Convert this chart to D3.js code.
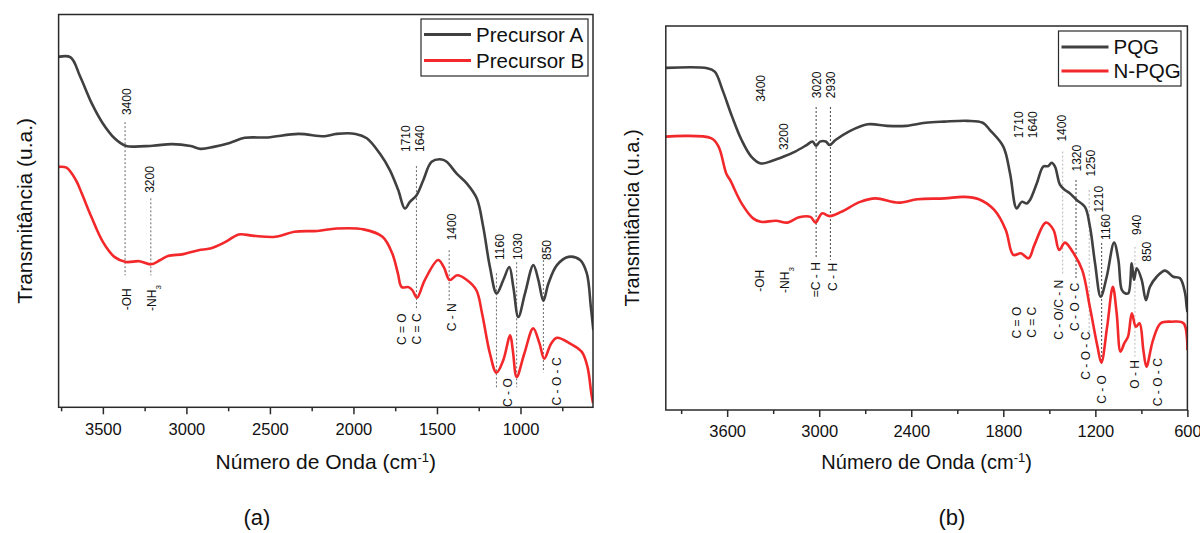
<!DOCTYPE html>
<html>
<head>
<meta charset="utf-8">
<script src="https://cdn.jsdelivr.net/npm/d3@7"></script>
<style>
  body { margin: 0; background: #fff; }
  text { font-family: "Liberation Sans", Arial, sans-serif; fill: #111; }
</style>
</head>
<body>
<script>
// ---- data (wavenumber cm-1, transmittance a.u.) ----
const precursorA = [[3768,89.2],[3693,89.1],[3636,84.2],[3568,77.5],[3502,72.4],[3430,68.5],[3364,66.6],[3202,66.6],[3088,67.0],[2974,66.5],[2915,65.8],[2837,66.3],[2741,67.3],[2651,68.6],[2513,68.7],[2330,69.6],[2172,69.0],[2101,69.6],[1987,69.6],[1920,68.5],[1842,64.6],[1782,60.4],[1732,55.3],[1692,50.6],[1662,52.3],[1622,54.0],[1582,57.8],[1532,62.5],[1472,63.1],[1442,62.5],[1382,59.5],[1322,57.0],[1262,53.2],[1223,45.9],[1183,35.7],[1143,29.0],[1103,32.4],[1067,35.7],[1043,30.6],[1013,23.0],[973,29.0],[923,36.2],[893,32.4],[863,27.1],[833,31.5],[782,36.2],[713,38.3],[643,37.5],[603,34.1],[579,25.6],[564,19.6]];
const precursorB = [[3768,61.2],[3718,61.0],[3661,57.8],[3626,54.4],[3569,48.5],[3500,42.1],[3431,38.3],[3362,37.0],[3282,37.2],[3213,36.4],[3156,37.5],[3110,38.5],[3018,39.0],[2927,40.0],[2858,40.4],[2766,42.1],[2686,44.0],[2605,43.7],[2468,43.4],[2353,44.7],[2216,44.9],[2101,45.5],[1940,45.3],[1826,43.4],[1768,39.2],[1734,34.1],[1711,30.6],[1670,30.6],[1647,29.8],[1620,27.9],[1573,32.4],[1493,37.5],[1459,35.7],[1424,32.4],[1379,33.6],[1321,32.4],[1264,29.8],[1230,23.9],[1183,13.7],[1144,8.8],[1103,12.0],[1062,18.3],[1046,14.5],[1023,7.7],[977,13.7],[924,20.1],[886,16.2],[858,12.4],[817,16.2],[782,17.7],[702,16.2],[633,14.1],[599,10.3],[576,3.5],[566,1.1]];
const pqg = [[4000,89.1],[3730,89.0],[3681,88.1],[3630,83.3],[3568,76.4],[3506,70.3],[3443,66.0],[3381,64.2],[3306,64.9],[3231,66.0],[3157,67.3],[3082,69.0],[3044,69.9],[3020,68.8],[2995,69.9],[2957,69.9],[2932,69.0],[2894,70.3],[2807,72.5],[2683,74.4],[2558,74.0],[2433,74.0],[2308,74.8],[2184,75.1],[2034,75.3],[1934,74.8],[1887,72.9],[1800,68.6],[1756,61.6],[1713,52.5],[1680,54.2],[1647,53.8],[1626,54.7],[1582,59.0],[1539,63.4],[1507,63.5],[1485,64.4],[1463,63.4],[1430,58.6],[1398,57.3],[1365,56.4],[1322,54.7],[1268,52.9],[1235,47.7],[1202,38.2],[1165,29.5],[1126,34.7],[1078,43.6],[1050,39.1],[1028,31.3],[1007,30.4],[985,30.4],[963,38.2],[948,33.9],[930,36.9],[898,33.9],[870,28.6],[844,32.1],[800,34.7],[746,36.3],[692,34.7],[648,34.3],[615,30.4],[605,26.9],[600,25.5]];
const npqg = [[4000,71.2],[3705,70.8],[3656,68.6],[3606,61.6],[3581,59.9],[3506,53.8],[3431,49.9],[3381,49.0],[3282,49.3],[3207,48.8],[3132,50.2],[3057,50.3],[3024,48.8],[2982,51.2],[2932,50.5],[2857,51.6],[2733,54.2],[2633,55.1],[2483,54.0],[2359,54.9],[2184,55.1],[2059,55.5],[1959,54.9],[1859,52.1],[1784,46.9],[1735,40.4],[1685,40.8],[1635,39.5],[1597,43.0],[1523,48.8],[1473,46.9],[1436,41.7],[1398,43.6],[1348,41.2],[1286,36.5],[1236,26.9],[1186,16.5],[1161,12.3],[1123,21.7],[1086,32.1],[1061,25.2],[1036,15.2],[1011,17.4],[987,19.1],[962,25.2],[936,21.7],[912,22.6],[887,15.6],[867,11.3],[824,18.2],[774,22.6],[700,23.0],[625,22.6],[600,15.6]];

const ticksA = [3500, 3000, 2500, 2000, 1500, 1000];
const minorA = [3750, 3250, 2750, 2250, 1750, 1250, 750];
const ticksB = [3600, 3000, 2400, 1800, 1200, 600];
const minorB = [3900, 3300, 2700, 2100, 1500, 900];

// peak marks: wn, from, to (a.u.), tone
const marksA = [
  {wn: 3367, y1: 72.6, y2: 33.6, tone: "mid"},
  {wn: 3213, y1: 53.2, y2: 33.6, tone: "mid"},
  {wn: 1623, y1: 61.4, y2: 24.7, tone: "mid"},
  {wn: 1427, y1: 40.0, y2: 27.3, tone: "mid"},
  {wn: 1144, y1: 34.1, y2: 5.1, tone: "mid"},
  {wn: 1023, y1: 36.9, y2: 5.1, tone: "mid"},
  {wn: 863, y1: 37.5, y2: 8.9, tone: "mid"}
];
const labelsA = [
  {wn: 3359, t: 74.4, text: "3400", pos: "above"},
  {wn: 3220, t: 54.6, text: "3200", pos: "above"},
  {wn: 1688, t: 65.0, text: "1710", pos: "above"},
  {wn: 1602, t: 65.0, text: "1640", pos: "above"},
  {wn: 1412, t: 42.5, text: "1400", pos: "above"},
  {wn: 1123, t: 37.5, text: "1160", pos: "above"},
  {wn: 1015, t: 37.5, text: "1030", pos: "above"},
  {wn: 843, t: 37.5, text: "850", pos: "above"},
  {wn: 3357, t: 30.3, text: "-OH", pos: "below"},
  {wn: 3208, t: 31.1, text: "-NH_3", pos: "below"},
  {wn: 1712, t: 23.9, text: "C = O", pos: "below"},
  {wn: 1622, t: 23.9, text: "C = C", pos: "below"},
  {wn: 1412, t: 26.5, text: "C - N", pos: "below"},
  {wn: 1078, t: 7.4, text: "C - O", pos: "below"},
  {wn: 783, t: 12.7, text: "C - O - C", pos: "below"}
];
const marksB = [
  {wn: 3020, y1: 78.9, y2: 39.6, tone: "dark"},
  {wn: 2927, y1: 78.9, y2: 39.1, tone: "dark"},
  {wn: 1413, y1: 67.3, y2: 35.2, tone: "light"},
  {wn: 1326, y1: 59.9, y2: 33.9, tone: "dark"},
  {wn: 1240, y1: 57.3, y2: 20.1, tone: "light"},
  {wn: 1159, y1: 43.5, y2: 12.2, tone: "dark"},
  {wn: 942, y1: 42.5, y2: 13.9, tone: "light"}
];
const labelsB = [
  {wn: 3381, t: 80.3, text: "3400", pos: "above"},
  {wn: 3232, t: 67.7, text: "3200", pos: "above"},
  {wn: 3017, t: 81.2, text: "3020", pos: "above"},
  {wn: 2923, t: 81.2, text: "2930", pos: "above"},
  {wn: 1702, t: 70.8, text: "1710", pos: "above"},
  {wn: 1605, t: 70.8, text: "1640", pos: "above"},
  {wn: 1420, t: 69.9, text: "1400", pos: "above"},
  {wn: 1318, t: 62.1, text: "1320", pos: "above"},
  {wn: 1228, t: 60.8, text: "1250", pos: "above"},
  {wn: 1176, t: 51.4, text: "1210", pos: "above"},
  {wn: 1131, t: 44.3, text: "1160", pos: "above"},
  {wn: 927, t: 45.6, text: "940", pos: "above"},
  {wn: 865, t: 38.6, text: "850", pos: "above"},
  {wn: 3386, t: 36.5, text: "-OH", pos: "below"},
  {wn: 3223, t: 37.2, text: "-NH_3", pos: "below"},
  {wn: 3025, t: 38.5, text: "=C - H", pos: "below"},
  {wn: 2910, t: 38.3, text: "C - H", pos: "below"},
  {wn: 1713, t: 26.9, text: "C = O", pos: "below"},
  {wn: 1615, t: 26.9, text: "C = C", pos: "below"},
  {wn: 1437, t: 33.9, text: "C - O/C - N", pos: "below"},
  {wn: 1333, t: 33.1, text: "C - O - C", pos: "below"},
  {wn: 1261, t: 20.4, text: "C - O - C", pos: "below"},
  {wn: 1161, t: 9.1, text: "C - O", pos: "below"},
  {wn: 942, t: 13.0, text: "O - H", pos: "below"},
  {wn: 793, t: 13.5, text: "C - O - C", pos: "below"}
];

const svg = d3.select("body").append("svg")
  .attr("width", 1200).attr("height", 533);

const toneColor = {mid: "#6a6a6a", dark: "#444", light: "#b8b8b8"};

function drawPanel(p) {
  let x = d3.scaleLinear().domain(p.xDomain).range([p.left, p.right]);
  let y = d3.scaleLinear().domain([0, 100]).range([p.bottom, p.top]);
  let g = svg.append("g");

  g.append("clipPath").attr("id", "clip" + p.id)
    .append("rect")
    .attr("x", p.left).attr("y", p.top)
    .attr("width", p.right - p.left).attr("height", p.bottom - p.top);

  // dotted peak marks
  g.selectAll("line.mark").data(p.marks).enter()
    .append("line")
    .attr("class", "mark")
    .attr("x1", d => x(d.wn)).attr("x2", d => x(d.wn))
    .attr("y1", d => y(d.y1)).attr("y2", d => y(d.y2))
    .attr("stroke", d => toneColor[d.tone])
    .attr("stroke-width", 1)
    .attr("stroke-dasharray", "2,2");

  let line = d3.line()
    .x(d => x(d[0])).y(d => y(d[1]))
    .curve(d3.curveCatmullRom.alpha(0.5));

  p.series.forEach(s => {
    g.append("path")
      .datum(s.values)
      .attr("clip-path", "url(#clip" + p.id + ")")
      .attr("fill", "none")
      .attr("stroke", s.color)
      .attr("stroke-width", 2.6)
      .attr("stroke-linejoin", "round")
      .attr("d", line);
  });

  // rotated peak labels
  let labels = g.selectAll("text.lab").data(p.labels).enter()
    .append("text")
    .attr("class", "lab")
    .attr("transform", d => "translate(" + x(d.wn) + "," + y(d.t) + ") rotate(-90)")
    .attr("dy", "0.35em")
    .attr("text-anchor", d => d.pos == "above" ? "start" : "end")
    .style("font-size", "12px");
  labels.each(function(d) {
    let parts = d.text.split("_");
    let t = d3.select(this);
    t.append("tspan").text(parts[0]);
    if (parts[1]) {
      t.append("tspan").attr("baseline-shift", "sub")
        .style("font-size", "8px").text(parts[1]);
    }
  });

  // frame
  g.append("rect")
    .attr("x", p.left).attr("y", p.top)
    .attr("width", p.right - p.left).attr("height", p.bottom - p.top)
    .attr("fill", "none").attr("stroke", "#2a2a2a").attr("stroke-width", 1.5);

  let xAxis = d3.axisBottom(x).tickValues(p.ticks)
    .tickFormat(d3.format("d"))
    .tickSize(7).tickPadding(p.pad).tickSizeOuter(0);
  let ax = g.append("g")
    .attr("transform", "translate(0," + p.bottom + ")")
    .call(xAxis);
  ax.select(".domain").remove();
  ax.selectAll(".tick line").attr("stroke", "#2a2a2a").attr("stroke-width", 1.5);
  ax.selectAll(".tick text")
    .style("font-family", '"Liberation Sans", Arial, sans-serif')
    .style("font-size", "16.5px").attr("fill", "#111");

  let mx = g.append("g")
    .attr("transform", "translate(0," + p.bottom + ")")
    .call(d3.axisBottom(x).tickValues(p.minor).tickSize(4).tickFormat(""));
  mx.select(".domain").remove();
  mx.selectAll(".tick line").attr("stroke", "#2a2a2a").attr("stroke-width", 1.5);

  // axis titles
  let xt = g.append("text")
    .attr("x", (p.left + p.right) / 2).attr("y", 469)
    .attr("text-anchor", "middle")
    .style("font-size", p.titleSize + "px");
  xt.append("tspan").text("Número de Onda (cm");
  xt.append("tspan").attr("baseline-shift", "super")
    .style("font-size", "13px").text("-1");
  xt.append("tspan").text(")");

  g.append("text")
    .attr("transform", "translate(" + p.yTitleX + "," + (p.top + p.bottom) / 2 + ") rotate(-90)")
    .attr("text-anchor", "middle")
    .style("font-size", p.titleSize + "px")
    .text("Transmitância (u.a.)");

  // legend
  let lg = g.append("g");
  lg.append("rect")
    .attr("x", p.legend.x).attr("y", p.legend.y)
    .attr("width", p.legend.w).attr("height", p.legend.h)
    .attr("fill", "#fff").attr("stroke", "#2a2a2a").attr("stroke-width", 1.2);
  p.series.forEach((s, i) => {
    let ly = p.legend.y + p.legend.first + i * p.legend.step;
    lg.append("line")
      .attr("x1", p.legend.x + 3).attr("x2", p.legend.x + 50)
      .attr("y1", ly).attr("y2", ly)
      .attr("stroke", s.color).attr("stroke-width", 3);
    lg.append("text")
      .attr("x", p.legend.x + 55).attr("y", ly)
      .attr("dy", "0.35em")
      .style("font-size", "20.5px")
      .text(s.name);
  });

  g.append("text")
    .attr("x", p.tagX).attr("y", 525)
    .attr("text-anchor", "middle")
    .style("font-size", "22px")
    .text(p.tag);
}

drawPanel({
  id: "a", tag: "(a)", tagX: 257,
  xDomain: [3765, 566], left: 58.6, right: 593, top: 14.5, bottom: 407.3,
  ticks: ticksA, minor: minorA, pad: 9, titleSize: 21, yTitleX: 32,
  series: [
    {name: "Precursor A", values: precursorA, color: "#404040"},
    {name: "Precursor B", values: precursorB, color: "#f2282b"}
  ],
  marks: marksA, labels: labelsA,
  legend: {x: 421, y: 19, w: 167, h: 57, first: 15.5, step: 26}
});

drawPanel({
  id: "b", tag: "(b)", tagX: 952,
  xDomain: [4000, 600], left: 665.8, right: 1187.4, top: 26, bottom: 410,
  ticks: ticksB, minor: minorB, pad: 8, titleSize: 20, yTitleX: 639,
  series: [
    {name: "PQG", values: pqg, color: "#404040"},
    {name: "N-PQG", values: npqg, color: "#f2282b"}
  ],
  marks: marksB, labels: labelsB,
  legend: {x: 1058.5, y: 31, w: 122.5, h: 55, first: 16, step: 24}
});
</script>
</body>
</html>
